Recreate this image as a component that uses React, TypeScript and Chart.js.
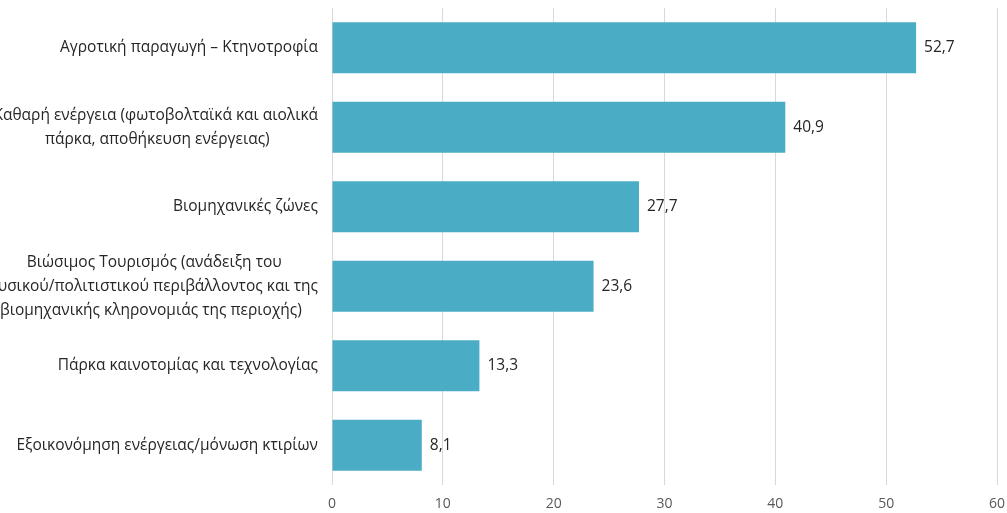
import React, { useEffect, useRef } from "react";
import { Chart, registerables } from "chart.js";

Chart.register(...registerables);

const categories: (string | string[])[] = [
  "Αγροτική παραγωγή – Κτηνοτροφία",
  ["Καθαρή ενέργεια (φωτοβολταϊκά και αιολικά", "πάρκα, αποθήκευση ενέργειας)"],
  "Βιομηχανικές ζώνες",
  [
    "Βιώσιμος Τουρισμός (ανάδειξη του",
    "φυσικού/πολιτιστικού περιβάλλοντος και της",
    "βιομηχανικής κληρονομιάς της περιοχής)",
  ],
  "Πάρκα καινοτομίας και τεχνολογίας",
  "Εξοικονόμηση ενέργειας/μόνωση κτιρίων",
];

const values: number[] = [52.7, 40.9, 27.7, 23.6, 13.3, 8.1];

const xMin = 0;
const xMax = 60;
const xStep = 10;

const FONT = '"Open Sans", "Noto Sans", sans-serif';
const LABEL_SIZE = 15.5;

// Center the lines of a multi-line label against each other (right-aligned block)
function centerLines(lines: string[]): string[] {
  const c = document.createElement("canvas").getContext("2d")!;
  c.font = `${LABEL_SIZE}px ${FONT}`;
  const widths = lines.map((l) => c.measureText(l).width);
  const max = Math.max(...widths);
  const sp = c.measureText(" ").width || 4;
  return lines.map((l, i) => {
    const n = Math.round((max - widths[i]) / 2 / sp);
    return l + " ".repeat(n);
  });
}

const valueLabels = {
  id: "valueLabels",
  afterDatasetsDraw(chart: any) {
    const ctx = chart.ctx;
    const meta = chart.getDatasetMeta(0);
    const data = chart.data.datasets[0].data as number[];
    ctx.save();
    ctx.font = `15.5px ${FONT}`;
    ctx.fillStyle = "#262626";
    ctx.textAlign = "left";
    ctx.textBaseline = "middle";
    meta.data.forEach((bar: any, i: number) => {
      ctx.fillText(data[i].toFixed(1).replace(".", ","), bar.x + 8, bar.y);
    });
    ctx.restore();
  },
};

export default function App() {
  const ref = useRef<HTMLCanvasElement>(null);

  useEffect(() => {
    document.body.style.margin = "0";
    const labels = categories.map((c) => (Array.isArray(c) ? centerLines(c) : c));
    const chart = new Chart(ref.current!, {
      type: "bar",
      data: {
        labels,
        datasets: [
          {
            data: values,
            backgroundColor: "#4BACC6",
            borderWidth: 0,
            categoryPercentage: 1,
            barPercentage: 0.64,
          },
        ],
      },
      options: {
        indexAxis: "y",
        animation: false,
        responsive: false,
        layout: { padding: { top: 8, right: 10, left: 0, bottom: 0 } },
        plugins: { legend: { display: false }, tooltip: { enabled: false } },
        scales: {
          x: {
            min: xMin,
            max: xMax,
            ticks: {
              stepSize: xStep,
              color: "#595959",
              font: { family: FONT, size: 14 },
              padding: 11,
            },
            grid: { color: "#d9d9d9", drawTicks: false },
            border: { display: false },
            afterFit: (s: any) => {
              s.height = 28;
              s.paddingLeft = 0;
              s.paddingRight = 0;
            },
          },
          y: {
            ticks: {
              color: "#262626",
              font: { family: FONT, size: LABEL_SIZE, lineHeight: 1.55 },
              padding: 14,
              autoSkip: false,
            },
            grid: { display: false, drawTicks: false },
            border: { display: false },
            afterFit: (s: any) => {
              s.width = 332;
              s.paddingTop = 0;
              s.paddingBottom = 0;
            },
          },
        },
      },
      plugins: [valueLabels],
    });
    return () => chart.destroy();
  }, []);

  return (
    <div style={{ width: 1007, height: 513 }}>
      <canvas ref={ref} width={1007} height={513} />
    </div>
  );
}
